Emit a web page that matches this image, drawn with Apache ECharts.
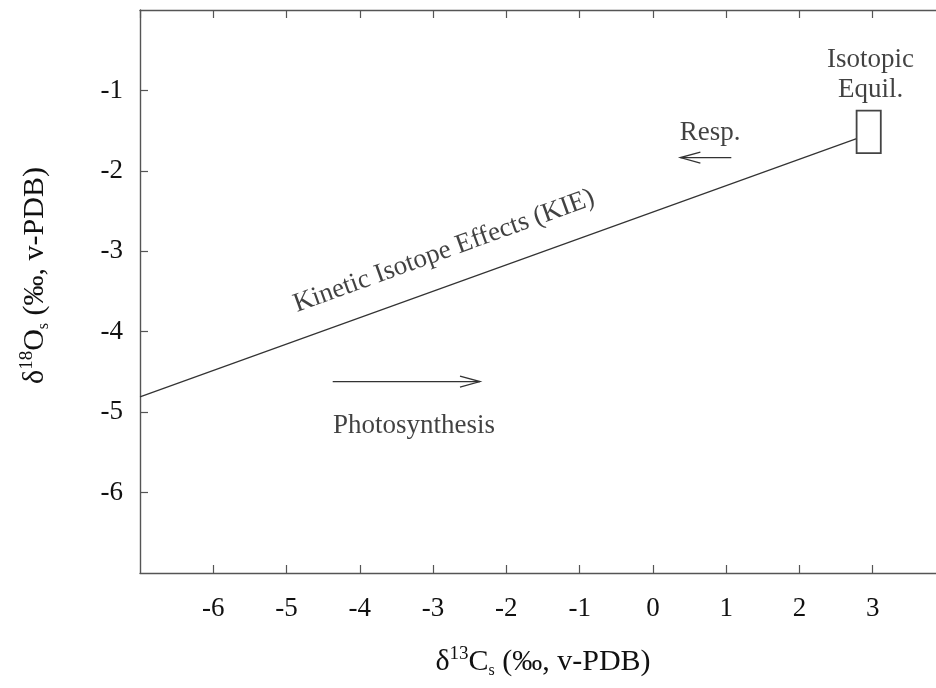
<!DOCTYPE html>
<html>
<head>
<meta charset="utf-8">
<script src="https://cdn.jsdelivr.net/npm/echarts@6/dist/echarts.min.js"></script>
<style>
html,body{margin:0;padding:0;background:#fff;}
#chart{width:936px;height:688px;}
</style>
</head>
<body>
<div id="chart"></div>
<script>
// Axis ranges
const xRange = [-7, 4];
const yRange = [-7, 0];
// KIE line endpoints [x, y]
const kieLineX = [-7, 2.78];
const kieLineY = [-4.81, -1.6];
// Isotopic equilibrium box [xMin, yMin, xMax, yMax]
const equilBox = [2.78, -1.78, 3.11, -1.25];
// Arrows [xStart, yStart, xEnd, yEnd]
const arrowPhoto = [-4.37, -4.62, -2.36, -4.62];
const arrowResp = [1.07, -1.835, 0.375, -1.835];
// Text annotations
const noteText = ['Kinetic Isotope Effects (KIE)', 'Photosynthesis', 'Resp.', 'Isotopic\nEquil.'];
const noteX = [-2.85, -3.26, 0.78, 2.97];
const noteY = [-3.0, -5.17, -1.525, -0.81];
const noteRotate = [19.9, 0, 0, 0];

const FONT = 'Liberation Serif';
const AX = '#555';
const TXT = '#111';

const chart = echarts.init(document.getElementById('chart'));

const axisCommon = {
  type: 'value',
  interval: 1,
  splitLine: {show: false},
  axisLine: {show: true, onZero: false, lineStyle: {color: AX, width: 1.4}},
  axisTick: {show: true, inside: true, length: 8, lineStyle: {color: AX, width: 1.2}},
};

const richName = {
  m: {fontFamily: FONT, fontSize: 30, color: TXT},
  sup: {fontFamily: FONT, fontSize: 19, color: TXT, padding: [0, 0, 15, 0]},
  sub: {fontFamily: FONT, fontSize: 16, color: TXT, padding: [18, 0, 0, 0]}
};

const option = {
  animation: false,
  backgroundColor: '#fff',
  grid: {left: 140, top: 10, right: -10, bottom: 115, outerBoundsMode: 'none', containLabel: false},
  xAxis: [
    Object.assign({}, axisCommon, {
      min: xRange[0], max: xRange[1], position: 'bottom',
      axisLabel: {show: true, margin: 22, fontFamily: FONT, fontSize: 27, color: TXT, showMinLabel: false, showMaxLabel: false},
      name: '{m|δ}{sup|13}{m|C}{sub|s}{m| (‰, v-PDB)}',
      nameLocation: 'middle', nameGap: 72,
      nameTextStyle: {rich: richName}
    }),
    Object.assign({}, axisCommon, {
      min: xRange[0], max: xRange[1], position: 'top',
      axisLabel: {show: false}
    })
  ],
  yAxis: [
    Object.assign({}, axisCommon, {
      min: yRange[0], max: yRange[1], position: 'left',
      axisLabel: {show: true, margin: 17, fontFamily: FONT, fontSize: 27, color: TXT, showMinLabel: false, showMaxLabel: false},
      name: '{m|δ}{sup|18}{m|O}{sub|s}{m| (‰, v-PDB)}',
      nameLocation: 'middle', nameGap: 88,
      nameTextStyle: {rich: richName, padding: [0, 0, 0, 32]}
    }),
    Object.assign({}, axisCommon, {
      min: yRange[0], max: yRange[1], position: 'right',
      axisLabel: {show: false}
    })
  ],
  series: [
    {
      type: 'line',
      data: kieLineX.map((x, i) => [x, kieLineY[i]]),
      symbol: 'none',
      lineStyle: {color: '#333', width: 1.2},
      silent: true,
      z: 3
    },
    {
      type: 'custom',
      data: [arrowPhoto, arrowResp],
      encode: {x: [0, 2], y: [1, 3]},
      silent: true,
      renderItem: function (params, api) {
        const p1 = api.coord([api.value(0), api.value(1)]);
        const p2 = api.coord([api.value(2), api.value(3)]);
        const dx = p2[0] - p1[0], dy = p2[1] - p1[1];
        const len = Math.hypot(dx, dy);
        const ux = dx / len, uy = dy / len;
        const hl = 20, hw = 5.5;
        const b = [p2[0] - ux * hl, p2[1] - uy * hl];
        const a1 = [b[0] - uy * hw, b[1] + ux * hw];
        const a2 = [b[0] + uy * hw, b[1] - ux * hw];
        return {
          type: 'group',
          children: [
            {type: 'line', shape: {x1: p1[0], y1: p1[1], x2: p2[0], y2: p2[1]}, style: {stroke: '#333', lineWidth: 1.4}},
            {type: 'polyline', shape: {points: [a1, p2, a2]}, style: {stroke: '#333', lineWidth: 1.3, fill: null}}
          ]
        };
      }
    },
    {
      type: 'custom',
      data: [equilBox],
      encode: {x: [0, 2], y: [1, 3]},
      silent: true,
      z: 4,
      renderItem: function (params, api) {
        const pa = api.coord([api.value(0), api.value(3)]);
        const pb = api.coord([api.value(2), api.value(1)]);
        return {
          type: 'rect',
          shape: {x: pa[0], y: pa[1], width: pb[0] - pa[0], height: pb[1] - pa[1]},
          style: {stroke: '#444', lineWidth: 1.8, fill: '#fff'}
        };
      }
    },
    {
      type: 'scatter',
      symbolSize: 0,
      silent: true,
      itemStyle: {color: 'transparent'},
      data: noteText.map((t, i) => ({
        value: [noteX[i], noteY[i]],
        name: t,
        label: {rotate: noteRotate[i]}
      })),
      label: {
        show: true, position: 'inside', formatter: '{b}',
        fontFamily: FONT, fontSize: 27, color: TXT, lineHeight: 30, align: 'center', verticalAlign: 'middle'
      }
    }
  ]
};
chart.setOption(option);
</script>
</body>
</html>
